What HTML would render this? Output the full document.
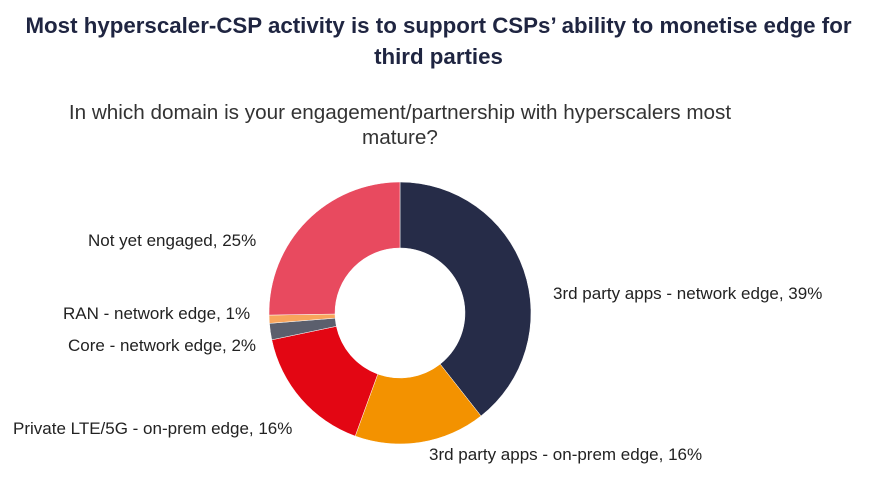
<!DOCTYPE html>
<html><head><meta charset="utf-8"><style>
body{margin:0;background:#fff;width:877px;height:488px;overflow:hidden;font-family:"Liberation Sans",Arial,sans-serif}
.t{position:absolute;left:0;width:877px;text-align:center;color:#1f2541;font-weight:bold;font-size:22.3px;line-height:31px;top:10px;white-space:nowrap}
.s{position:absolute;left:0;width:800px;text-align:center;color:#333;font-size:20.7px;line-height:25px;top:100px;white-space:nowrap}
.l{position:absolute;color:#222;font-size:17px;white-space:nowrap}
</style></head><body>
<div class="t">Most hyperscaler-CSP activity is to support CSPs’ ability to monetise edge for<br>third parties</div>
<div class="s">In which domain is your engagement/partnership with hyperscalers most<br>mature?</div>
<svg id="c" width="877" height="488" style="position:absolute;left:0;top:0"></svg>
<div class="l" style="left:88px;top:231px">Not yet engaged, 25%</div>
<div class="l" style="left:63px;top:304px">RAN - network edge, 1%</div>
<div class="l" style="left:68px;top:336px">Core - network edge, 2%</div>
<div class="l" style="left:13px;top:419px">Private LTE/5G - on-prem edge, 16%</div>
<div class="l" style="left:553px;top:284px">3rd party apps - network edge, 39%</div>
<div class="l" style="left:429px;top:445px">3rd party apps - on-prem edge, 16%</div>
<script>
var d=[[39,"#262c48"],[16,"#f39200"],[16,"#e30613"],[2,"#5b5f6d"],[1,"#f8a55c"],[25,"#e84a5f"]];
var cx=400,cy=313,R=131,r=65,a=0,s="",tot=99;
function p(ang,rad){return [cx+rad*Math.sin(ang),cy-rad*Math.cos(ang)];}
d.forEach(function(e){var b=a+e[0]/tot*2*Math.PI,l=(b-a)>Math.PI?1:0;
var A=p(a,R),B=p(b,R),C=p(b,r),D=p(a,r);
s+='<path fill="'+e[1]+'" stroke="#fff" stroke-width="0.5" d="M'+A+' A'+R+' '+R+' 0 '+l+' 1 '+B+' L'+C+' A'+r+' '+r+' 0 '+l+' 0 '+D+'Z"/>';a=b;});
document.getElementById("c").innerHTML=s;
</script>
</body></html>
